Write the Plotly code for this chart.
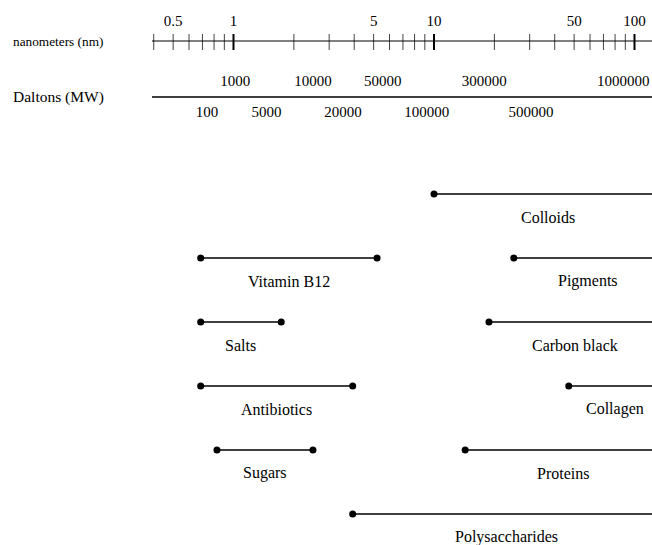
import plotly.graph_objects as go
import math

# ---------------- data ----------------
# nanometer scale ticks
nm_minor_ticks = [0.4, 0.5, 0.6, 0.7, 0.8, 0.9,
                  2, 3, 4, 5, 6, 7, 8, 9,
                  20, 30, 40, 50, 60, 70, 80, 90]
nm_major_ticks = [1, 10, 100]
nm_tick_labels = ["0.5", "1", "5", "10", "50", "100"]
nm_tick_label_vals = [0.5, 1, 5, 10, 50, 100]

# Dalton (molecular weight) labels and their nm-equivalent positions
dalton_upper_labels = ["1000", "10000", "50000", "300000", "1000000"]
dalton_upper_nm = [1.02, 2.49, 5.55, 17.8, 88.0]
dalton_lower_labels = ["100", "5000", "20000", "100000", "500000"]
dalton_lower_nm = [0.738, 1.46, 3.52, 9.2, 30.5]

# size ranges (nm); None = open-ended (extends past the scale)
substances = ["Colloids", "Vitamin B12", "Pigments", "Salts", "Carbon black",
              "Antibiotics", "Collagen", "Sugars", "Proteins", "Polysaccharides"]
range_low = [10, 0.686, 25, 0.686, 18.8, 0.686, 47, 0.827, 14.3, 3.93]
range_high = [None, 5.2, None, 1.73, None, 3.93, None, 2.49, None, None]
row_index = [0, 1, 1, 2, 2, 3, 3, 4, 4, 5]

# ---------------- layout constants ----------------
W, H = 652, 545
LEFT = 152
XMIN_LOG = -0.4065
XMAX_LOG = 2.0873
OPEN_END = 136.0          # beyond visible scale -> clipped
ROW_Y0, ROW_DY = 194, 64
LABEL_DY = 23
NM_AXIS_Y = 41
DALTON_AXIS_Y = 97
FONT = "Liberation Serif"

fig = go.Figure()

# nm axis ticks
def seg_trace(vals, y0, y1, width, color):
    xs, ys = [], []
    for v in vals:
        xs += [v, v, None]
        ys += [y0, y1, None]
    return go.Scatter(x=xs, y=ys, mode="lines",
                      line=dict(color=color, width=width),
                      hoverinfo="skip", showlegend=False)

fig.add_trace(seg_trace(nm_minor_ticks, NM_AXIS_Y - 7, NM_AXIS_Y + 9, 1, "#444444"))
fig.add_trace(seg_trace(nm_major_ticks, NM_AXIS_Y - 7, NM_AXIS_Y + 9, 2, "#000000"))

fig.add_trace(go.Scatter(x=nm_tick_label_vals, y=[NM_AXIS_Y - 19] * len(nm_tick_label_vals),
                         mode="text", text=nm_tick_labels,
                         textfont=dict(family=FONT, size=15, color="black"),
                         hoverinfo="skip", showlegend=False, cliponaxis=False))

# Dalton labels
fig.add_trace(go.Scatter(x=dalton_upper_nm, y=[DALTON_AXIS_Y - 15] * len(dalton_upper_nm),
                         mode="text", text=dalton_upper_labels,
                         textfont=dict(family=FONT, size=15, color="black"),
                         hoverinfo="skip", showlegend=False, cliponaxis=False))
fig.add_trace(go.Scatter(x=dalton_lower_nm, y=[DALTON_AXIS_Y + 16] * len(dalton_lower_nm),
                         mode="text", text=dalton_lower_labels,
                         textfont=dict(family=FONT, size=15, color="black"),
                         hoverinfo="skip", showlegend=False, cliponaxis=False))

# ranges
for name, lo, hi, r in zip(substances, range_low, range_high, row_index):
    y = ROW_Y0 + ROW_DY * r
    hi_v = hi if hi is not None else OPEN_END
    fig.add_trace(go.Scatter(x=[lo, hi_v], y=[y, y], mode="lines+markers",
                             line=dict(color="black", width=1.7),
                             marker=dict(color="black", size=7),
                             hoverinfo="skip", showlegend=False))
    mid = math.sqrt(lo * hi_v)
    fig.add_annotation(x=math.log10(mid), y=y + LABEL_DY, text=name,
                       showarrow=False, xanchor="center", yanchor="middle",
                       font=dict(family=FONT, size=16, color="black"))

# axis lines
fig.add_shape(type="line", xref="paper", yref="y", x0=0, x1=1,
              y0=NM_AXIS_Y, y1=NM_AXIS_Y, line=dict(color="black", width=1))
fig.add_shape(type="line", xref="paper", yref="y", x0=0, x1=1,
              y0=DALTON_AXIS_Y, y1=DALTON_AXIS_Y, line=dict(color="black", width=1.5))

# axis titles
fig.add_annotation(xref="paper", x=(11 - LEFT) / (W - LEFT), y=NM_AXIS_Y,
                   text="nanometers (nm)", showarrow=False, xanchor="left",
                   yanchor="middle", font=dict(family=FONT, size=13.3, color="black"))
fig.add_annotation(xref="paper", x=(11 - LEFT) / (W - LEFT), y=DALTON_AXIS_Y,
                   text="Daltons (MW)", showarrow=False, xanchor="left",
                   yanchor="middle", font=dict(family=FONT, size=15.5, color="black"))

fig.update_layout(
    width=W, height=H,
    margin=dict(l=LEFT, r=0, t=0, b=0),
    paper_bgcolor="white", plot_bgcolor="white",
    xaxis=dict(type="log", range=[XMIN_LOG, XMAX_LOG], visible=False),
    yaxis=dict(range=[H, 0], visible=False),
    showlegend=False,
)

fig.write_html("out.html",
               config={"displayModeBar": False, "staticPlot": True},
               post_script="document.body.style.margin='0px';document.body.style.overflow='hidden';")
